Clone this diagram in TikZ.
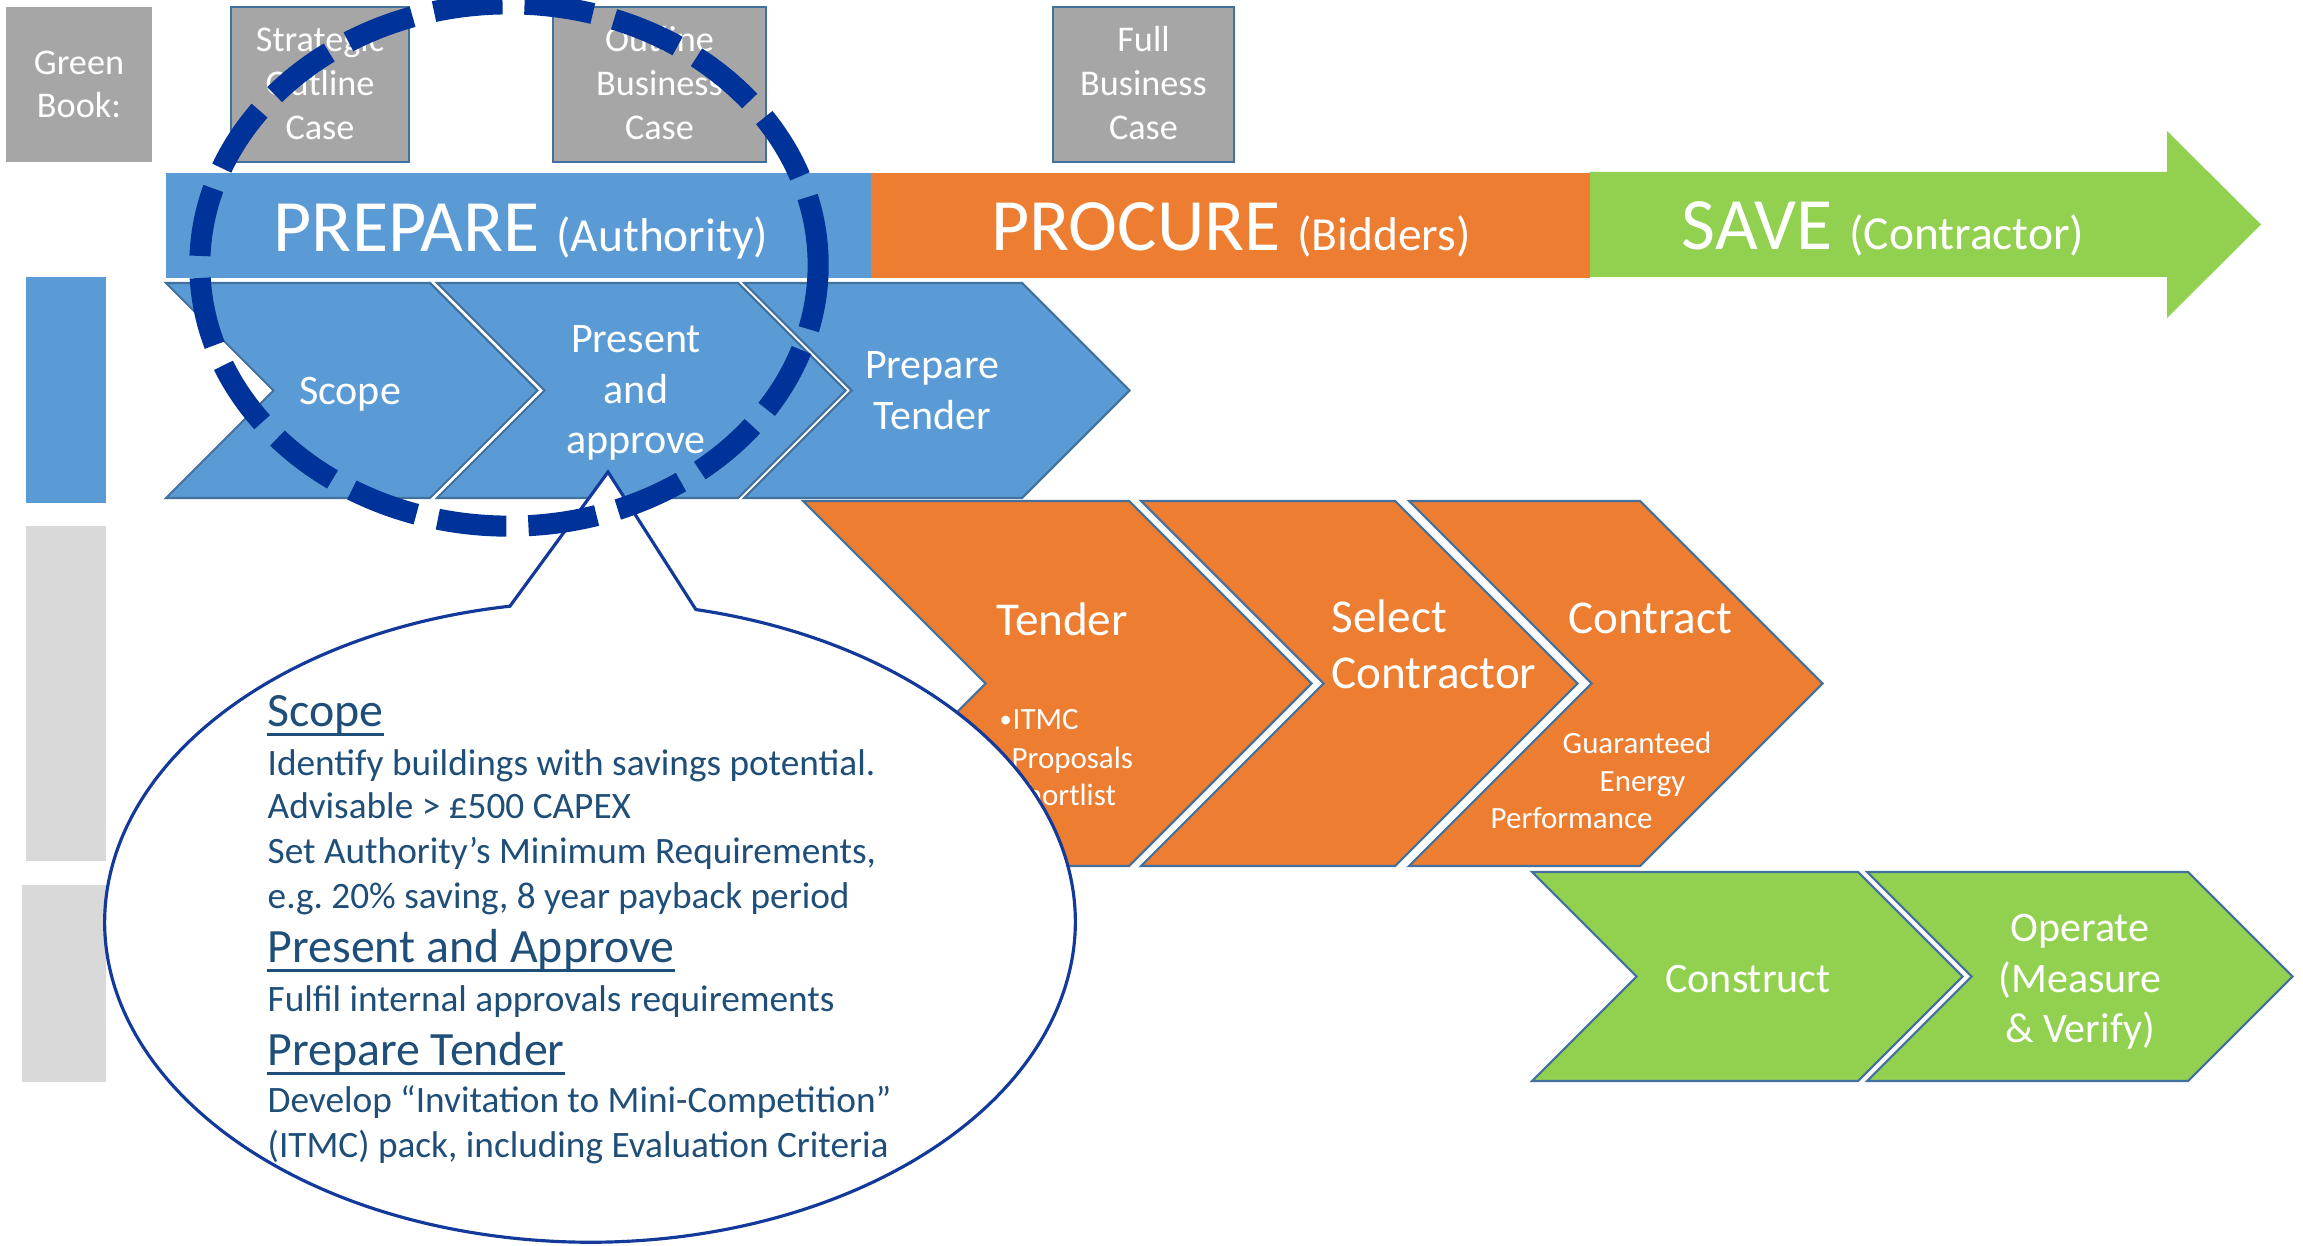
\documentclass[tikz,border=0pt]{standalone}
\usepackage{fontspec}
\setmainfont{Carlito}
\frenchspacing
\definecolor{bluef}{HTML}{5B9BD5}
\definecolor{orangef}{HTML}{ED7D31}
\definecolor{greenf}{HTML}{92D050}
\definecolor{boxgray}{HTML}{A6A6A6}
\definecolor{lgray}{HTML}{D9D9D9}
\definecolor{outl}{HTML}{41719C}
\definecolor{navy}{HTML}{003399}
\definecolor{callline}{HTML}{13399A}
\definecolor{calltext}{HTML}{1F4E79}
\newcommand\chevshape[5]{%
  \pgfmathsetmacro\chm{(#4+#5)/2}%
  \pgfmathsetmacro\chd{(#5-#4)/2}%
  \draw[#1] (#2,#4) -- (#3,#4) -- (#3+\chd,\chm) -- (#3,#5) -- (#2,#5) -- (#2+\chd,\chm) -- cycle;}
\begin{document}
\begin{tikzpicture}[x=0.01cm,y=-0.01cm,
  lbl/.style={inner sep=0pt, anchor=base, text=white},
  lblw/.style={inner sep=0pt, anchor=base west, text=white},
  callt/.style={inner sep=0pt, anchor=base west, text=calltext},
  fbox/.style={font=\fontsize{10.3}{12.5}\selectfont},
  fband/.style={font=\fontsize{21}{24}\selectfont},
  fchev/.style={font=\fontsize{11.95}{14.4}\selectfont},
  forange/.style={font=\fontsize{13.4}{16}\selectfont},
  fsub/.style={font=\fontsize{8.8}{10.8}\selectfont},
  fhead/.style={font=\fontsize{13.6}{16}\selectfont},
  fbody/.style={font=\fontsize{10.6}{12.8}\selectfont},
  chevblue/.style={fill=bluef, draw=outl, line width=0.6pt, line join=miter},
  chevorange/.style={fill=orangef, draw=outl, line width=0.6pt, line join=miter},
  chevgreen/.style={fill=greenf, draw=outl, line width=0.6pt, line join=miter},
  gbox/.style={fill=boxgray, draw=outl, line width=0.7pt},
  uline/.style={draw=calltext, line width=0.9pt}
]
\useasboundingbox (0,0) rectangle (2303,1246);
% phase bands
\fill[bluef] (166,173) rectangle (871,278);
\fill[orangef] (871,173) rectangle (1590,278);
\fill[greenf] (1590,172) -- (2167,172) -- (2167,131) -- (2261,224.5) -- (2167,318) -- (2167,277) -- (1590,277) -- cycle;
\node[lbl, fband] (prep) at (521,252) {PREPARE {\fontsize{13.5}{16}\selectfont (Authority)}};
\node[lbl, fband] (proc) at (1231,251) {PROCURE {\fontsize{13.5}{16}\selectfont (Bidders)}};
\node[lbl, fband] (save) at (1883,250) {SAVE {\fontsize{13.5}{16}\selectfont (Contractor)}};
% left bars
\fill[bluef] (26,277) rectangle (106,503);
\fill[lgray] (26,526) rectangle (106,861);
\fill[lgray] (22,885) rectangle (106,1082);
% green book boxes
\fill[boxgray] (6,7) rectangle (152,162);
\node[lbl, fbox] (gb1) at (79,75) {Green};
\node[lbl, fbox] (gb2) at (79,118) {Book:};
\draw[gbox] (231,7) rectangle (409,162);
\node[lbl, fbox] (soc1) at (320,52) {Strategic};
\node[lbl, fbox] (soc2) at (320,96) {Outline};
\node[lbl, fbox] (soc3) at (320,140) {Case};
\draw[gbox] (553,7) rectangle (766,162);
\node[lbl, fbox] (obc1) at (659.5,52) {Outline};
\node[lbl, fbox] (obc2) at (659.5,96) {Business};
\node[lbl, fbox] (obc3) at (659.5,140) {Case};
\draw[gbox] (1053,7) rectangle (1234,162);
\node[lbl, fbox] (fbc1) at (1143.5,52) {Full};
\node[lbl, fbox] (fbc2) at (1143.5,96) {Business};
\node[lbl, fbox] (fbc3) at (1143.5,140) {Case};
% blue chevrons
\chevshape{chevblue}{166}{430}{283}{498}
\chevshape{chevblue}{437}{738}{283}{498}
\chevshape{chevblue}{744}{1022}{283}{498}
\node[lbl, fchev] (scope) at (350,405) {Scope};
\node[lbl, fchev] (pa1) at (636,353) {Present};
\node[lbl, fchev] (pa2) at (636,403) {and};
\node[lbl, fchev] (pa3) at (636,454) {approve};
\node[lbl, fchev] (pt1) at (932,379) {Prepare};
\node[lbl, fchev] (pt2) at (932,430) {Tender};
% orange chevrons
\chevshape{chevorange}{803}{1129}{501}{866}
\chevshape{chevorange}{1141}{1395}{501}{866}
\chevshape{chevorange}{1409}{1640}{501}{866}
\node[lbl, forange] (tender) at (1062,635) {Tender};
\node[lblw, forange] (sel1) at (1331,632) {Select};
\node[lblw, forange] (sel2) at (1331,688) {Contractor};
\node[lbl, forange] (contract) at (1650,633) {Contract};
\node[lblw, font=\fontsize{7}{8}\selectfont, text=white, inner sep=0pt] (bul) at (999,727) {•};
\node[lblw, fsub] (itmc) at (1012,729) {ITMC};
\node[lblw, fsub] (props) at (1011,768) {Proposals};
\node[lblw, fsub] (short) at (1011,805) {Shortlist};
\node[lblw, fsub] (guar) at (1562,753) {Guaranteed};
\node[lblw, fsub] (energy) at (1599,791) {Energy};
\node[lblw, fsub] (perf) at (1490,828) {Performance};
% green chevrons
\chevshape{chevgreen}{1532}{1858}{872}{1081}
\chevshape{chevgreen}{1867}{2188}{872}{1081}
\node[lbl, fchev] (construct) at (1748,992) {Construct};
\node[lbl, fchev] (op1) at (2080,941) {Operate};
\node[lbl, fchev] (op2) at (2080,992) {(Measure};
\node[lbl, fchev] (op3) at (2080,1042) {\& Verify)};
% callout
\coordinate (cc) at (590,922);
\coordinate (tip) at (608,472);
\draw[fill=white, draw=callline, line width=0.9pt, line join=miter]
  (cc) ++(77.4:4.85cm and 3.2cm)
  arc[start angle=77.4, end angle=-260.5, x radius=4.85cm, y radius=3.2cm]
  -- (tip) -- cycle;
\node[callt, fhead] (h1) at (267,726) {Scope};
\node[callt, fbody] (b1) at (267,775) {Identify buildings with savings potential.};
\node[callt, fbody] (b2) at (267,818) {Advisable > £500 CAPEX};
\node[callt, fbody] (b3) at (267,863) {Set Authority’s Minimum Requirements,};
\node[callt, fbody] (b4) at (267,908) {e.g. 20\% saving, 8 year payback period};
\node[callt, fhead] (h2) at (267,962) {Present and Approve};
\node[callt, fbody] (b5) at (267,1011) {Fulfil internal approvals requirements};
\node[callt, fhead] (h3) at (267,1065) {Prepare Tender};
\node[callt, fbody] (b6) at (267,1112) {Develop “Invitation to Mini-Competition”};
\node[callt, fbody] (b7) at (267,1157) {(ITMC) pack, including Evaluation Criteria};
\draw[uline] ([yshift=-2.4pt]h1.base west) -- ([yshift=-2.4pt]h1.base east);
\draw[uline] ([yshift=-2.4pt]h2.base west) -- ([yshift=-2.4pt]h2.base east);
\draw[uline] ([yshift=-2.4pt]h3.base west) -- ([yshift=-2.4pt]h3.base east);
% dashed highlight circle
\draw[navy, line width=6pt, dash pattern=on 0.69cm off 0.22cm] (509,265) ellipse [x radius=3.09cm, y radius=2.61cm];
\end{tikzpicture}
\end{document}
